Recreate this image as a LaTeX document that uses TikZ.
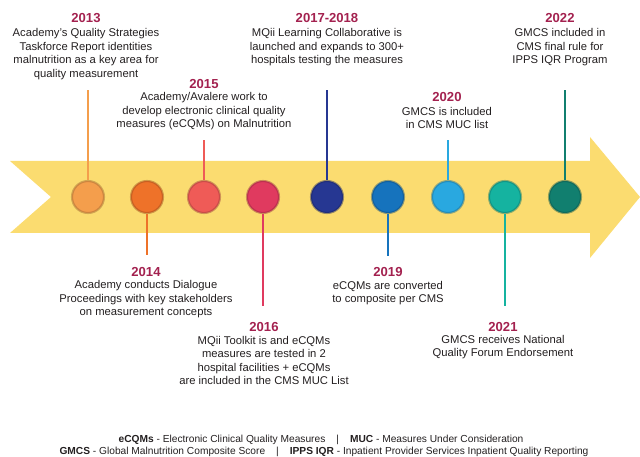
\documentclass[tikz,border=0pt]{standalone}
\usepackage{fontspec}
\setmainfont{Liberation Sans}
\usetikzlibrary{positioning}

\definecolor{band}{HTML}{FBDC70}
\definecolor{yearred}{HTML}{A3214F}
\definecolor{ink}{HTML}{231F20}
\definecolor{c13}{HTML}{F49E4C}
\definecolor{c14}{HTML}{EE7229}
\definecolor{c15}{HTML}{EF5B57}
\definecolor{c16}{HTML}{E03A5F}
\definecolor{c17}{HTML}{263792}
\definecolor{c19}{HTML}{1673BD}
\definecolor{c20}{HTML}{29A8E0}
\definecolor{c21}{HTML}{15B3A0}
\definecolor{c22}{HTML}{117F6F}

\begin{document}
\begin{tikzpicture}[x=0.025cm, y=-0.025cm,
  dot/.style={circle, fill=#1, draw=#1!65!black, draw opacity=0.45, line width=1.5pt,
    minimum size=0.8cm, inner sep=0pt},
  stem/.style={draw=#1, line width=1.4pt},
  yr/.style={font=\fontsize{9.3}{11}\selectfont\bfseries, text=yearred, inner sep=0pt},
  desc/.style={font=\fontsize{8}{9.6}\selectfont, text=ink, align=center, inner sep=0pt},
  foot/.style={font=\fontsize{7.25}{8.5}\selectfont, text=ink, inner sep=0pt}]

  \useasboundingbox (0,0) rectangle (640,457);

  % Timeline arrow
  \fill[band] (10,161) -- (590,161) -- (590,137) -- (640,197) -- (590,258)
    -- (590,233) -- (10,233) -- (51,197) -- cycle;

  % Define milestones
  \node[dot=c13] (d13) at (88,197) {};
  \node[dot=c14] (d14) at (147,197) {};
  \node[dot=c15] (d15) at (204,197) {};
  \node[dot=c16] (d16) at (263,197) {};
  \node[dot=c17] (d17) at (327,197) {};
  \node[dot=c19] (d19) at (388,197) {};
  \node[dot=c20] (d20) at (448,197) {};
  \node[dot=c21] (d21) at (505,197) {};
  \node[dot=c22] (d22) at (565,197) {};

  % Stem ends
  \coordinate (e13) at (88,90);
  \coordinate (e14) at (147,255);
  \coordinate (e15) at (204,140);
  \coordinate (e16) at (263,306);
  \coordinate (e17) at (327,90);
  \coordinate (e19) at (388,256);
  \coordinate (e20) at (448,140);
  \coordinate (e21) at (505,306);
  \coordinate (e22) at (565,90);

  % Stems
  \draw[stem=c13] (d13) -- (e13);
  \draw[stem=c14] (d14) -- (e14);
  \draw[stem=c15] (d15) -- (e15);
  \draw[stem=c16] (d16) -- (e16);
  \draw[stem=c17] (d17) -- (e17);
  \draw[stem=c19] (d19) -- (e19);
  \draw[stem=c20] (d20) -- (e20);
  \draw[stem=c21] (d21) -- (e21);
  \draw[stem=c22] (d22) -- (e22);

  % Labels above
  \node[yr] (y13) at (86,18) {2013};
  \node[desc] (t13) at (86,54) {Academy's Quality Strategies\\ Taskforce Report identities\\
    malnutrition as a key area for\\ quality measurement};
  \node[yr] (y15) at (204,84) {2015};
  \node[desc] (t15) at (204,111.5) {Academy/Avalere work to\\ develop electronic clinical quality\\
    measures (eCQMs) on Malnutrition};
  \node[yr] (y17) at (327,18) {2017-2018};
  \node[desc] (t17) at (327,47.5) {MQii Learning Collaborative is\\ launched and expands to 300+\\
    hospitals testing the measures};
  \node[yr] (y20) at (447,97) {2020};
  \node[desc] (t20) at (447,118) {GMCS is included\\ in CMS MUC list};
  \node[yr] (y22) at (560,18) {2022};
  \node[desc] (t22) at (560,47.5) {GMCS included in\\ CMS final rule for\\ IPPS IQR Program};

  % Labels below
  \node[yr] (y14) at (146,272) {2014};
  \node[desc] (t14) at (146,299.5) {Academy conducts Dialogue\\ Proceedings with key stakeholders\\
    on measurement concepts};
  \node[yr] (y16) at (264,327) {2016};
  \node[desc] (t16) at (264,360.5) {MQii Toolkit is and eCQMs\\ measures are tested in 2\\
    hospital facilities + eCQMs\\ are included in the CMS MUC List};
  \node[yr] (y19) at (388,272) {2019};
  \node[desc] (t19) at (388,293) {eCQMs are converted\\ to composite per CMS};
  \node[yr] (y21) at (503,327) {2021};
  \node[desc] (t21) at (503,347) {GMCS receives National\\ Quality Forum Endorsement};

  % Key
  \node[foot] (k1) at (321,440) {\textbf{eCQMs} - Electronic Clinical Quality Measures
    \hspace{0.8em}|\hspace{0.8em} \textbf{MUC} - Measures Under Consideration};
  \node[foot] (k2) at (324,452) {\textbf{GMCS} - Global Malnutrition Composite Score
    \hspace{0.8em}|\hspace{0.8em} \textbf{IPPS IQR} - Inpatient Provider Services Inpatient Quality Reporting};

\end{tikzpicture}
\end{document}
